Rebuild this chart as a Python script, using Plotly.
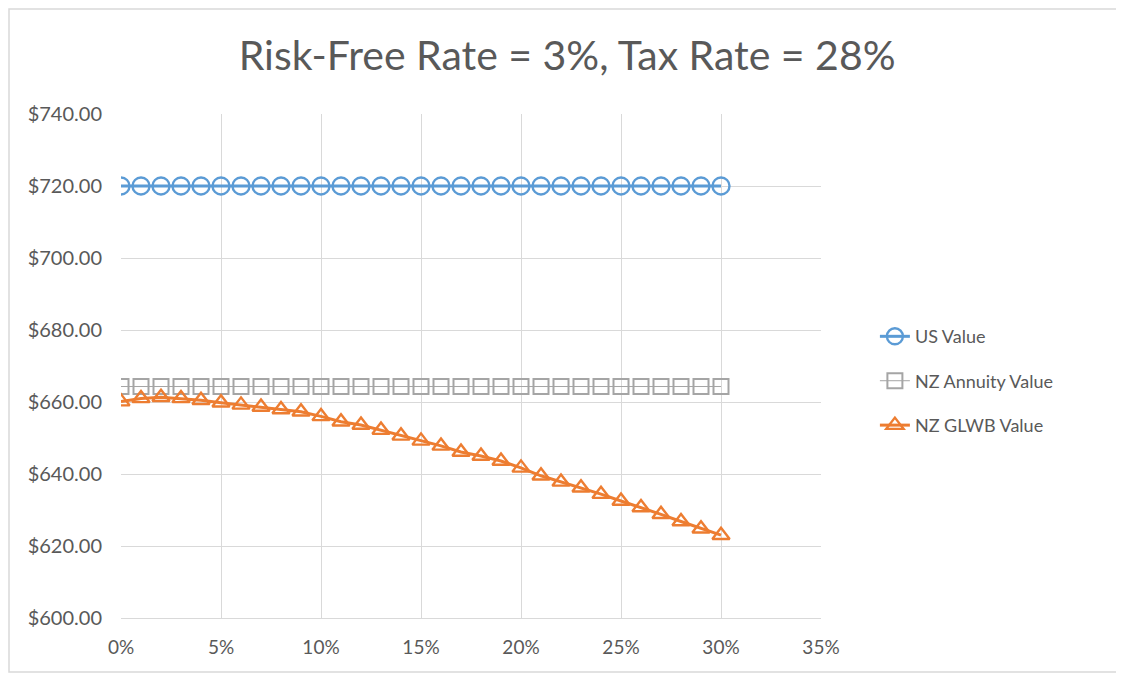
import plotly.graph_objects as go

x_rates = [i / 100 for i in range(31)]
us_value = [720.0] * 31
nz_annuity_value = [664.3] * 31
nz_glwb_value = [660.1, 661.0, 661.3, 661.0, 660.5, 659.8, 659.2, 658.6, 657.9, 657.3,
                 656.0, 654.5, 653.6, 652.2, 650.6, 649.2, 647.8, 646.1, 645.0, 643.6,
                 641.7, 639.5, 637.8, 636.2, 634.4, 632.5, 630.7, 628.8, 626.8, 624.8, 623.0]

x_ticks = [0, 0.05, 0.10, 0.15, 0.20, 0.25, 0.30, 0.35]
y_ticks = [600, 620, 640, 660, 680, 700, 720, 740]
y_tick_text = ["$%.2f" % v for v in y_ticks]

FONT = "Lato"
TXT = "#595959"

fig = go.Figure()
fig.add_trace(go.Scatter(
    x=x_rates, y=us_value, name="US Value", mode="lines+markers",
    line=dict(color="#5B9BD5", width=3),
    marker=dict(symbol="circle-open", size=17, line=dict(width=2.4, color="#5B9BD5")),
    legendgroup="a"))
fig.add_trace(go.Scatter(
    x=x_rates, y=nz_annuity_value, name="NZ Annuity Value", mode="lines+markers",
    line=dict(color="#A5A5A5", width=1),
    marker=dict(symbol="square-open", size=15, line=dict(width=2, color="#A5A5A5")),
    legendgroup="b"))
fig.add_trace(go.Scatter(
    x=x_rates, y=nz_glwb_value, name="NZ GLWB Value", mode="lines+markers",
    line=dict(color="#ED7D31", width=3),
    marker=dict(symbol="triangle-up-open", size=15, line=dict(width=2.4, color="#ED7D31")),
    legendgroup="c"))

fig.update_layout(
    width=1116, height=666,
    margin=dict(l=113, r=303, t=106, b=56, autoexpand=False),
    paper_bgcolor="white", plot_bgcolor="white",
    font=dict(family=FONT, color=TXT, size=18),
    title=dict(text="Risk-Free Rate = 3%, Tax Rate = 28%", x=0.501, xref="container",
               xanchor="center", y=0.929, yanchor="middle",
               font=dict(family=FONT, size=41, color=TXT)),
    legend=dict(x=1.077, xanchor="left", y=0.47, yanchor="middle",
                font=dict(family=FONT, size=18, color=TXT),
                tracegroupgap=18, bgcolor="rgba(0,0,0,0)"),
    showlegend=True,
)
fig.update_xaxes(range=[0, 0.35], tickvals=x_ticks, tickformat=".0%",
                 showgrid=True, gridcolor="#D9D9D9", gridwidth=1,
                 showline=True, linecolor="#D9D9D9", linewidth=1,
                 zeroline=False, ticks="", ticklabelstandoff=12, automargin=False,
                 tickfont=dict(size=19, color=TXT))
fig.update_yaxes(range=[600, 740], tickvals=y_ticks, ticktext=y_tick_text,
                 showgrid=True, gridcolor="#D9D9D9", gridwidth=1,
                 showline=False, zeroline=False, ticks="", ticklabelstandoff=18,
                 automargin=False, tickfont=dict(size=20, color=TXT))
fig.add_shape(type="rect", xref="paper", yref="paper",
              x0=(1 - 113) / 700, x1=(1112 - 113) / 700,
              y0=(610 - 664) / 504, y1=(610 - 1) / 504,
              line=dict(color="#D9D9D9", width=1.5), layer="below")

fig.write_html("out.html")
